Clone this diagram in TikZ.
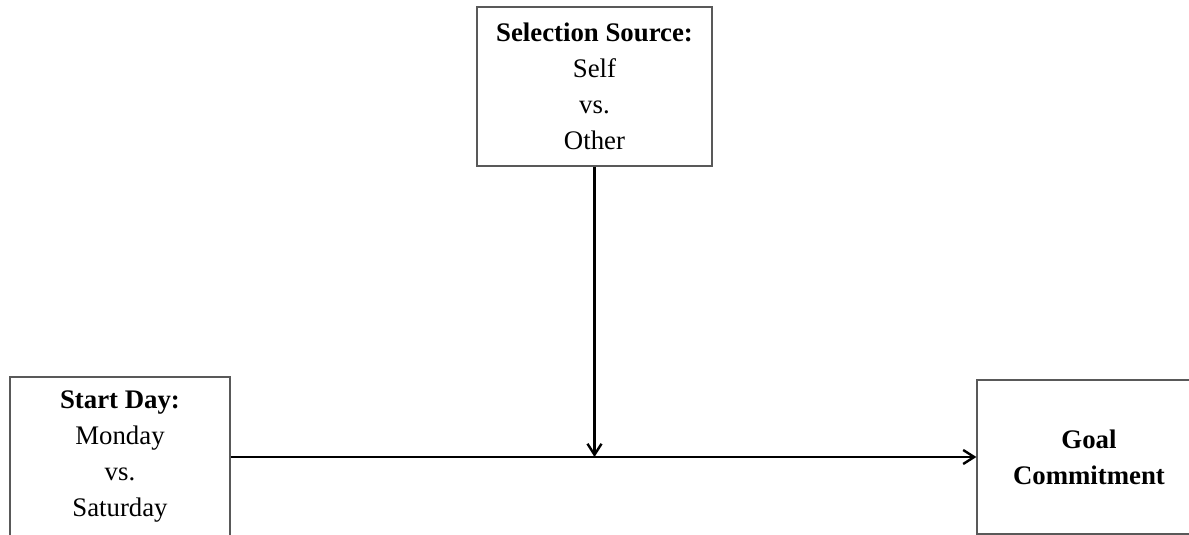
\documentclass[tikz,border=0pt]{standalone}
\usepackage{fontspec}
\setmainfont{Liberation Serif}
\usetikzlibrary{arrows.meta,positioning,calc}

\begin{document}
\begin{tikzpicture}[x=0.5pt,y=-0.5pt,>={Straight Barb[length=5.5pt,width=7pt]},
  box/.style={draw=black!65,line width=0.6pt,rectangle,align=center,inner sep=0pt,
    font=\fontsize{13.4}{18}\selectfont}]
\useasboundingbox (0,0) rectangle (1189,535);
\node[box,minimum width=117.5pt,minimum height=79.5pt](sel) at (594.5,86.5) {\textbf{Selection Source:}\\Self\\vs.\\Other};
\node[box,minimum width=110pt,minimum height=80pt](start) at (120,457) {\textbf{Start Day:}\\Monday\\vs.\\Saturday};
\node[box,minimum width=112pt,minimum height=77pt](goal) at (1089,457) {\textbf{Goal}\\\textbf{Commitment}};
\node[coordinate](q_m)[] at (sel.south |- start.east) {};
\draw[->,line width=1.2pt] (start.east) -- (goal.west);
\draw[->,line width=1.2pt] (sel.south) -- (q_m);
\end{tikzpicture}
\end{document}
